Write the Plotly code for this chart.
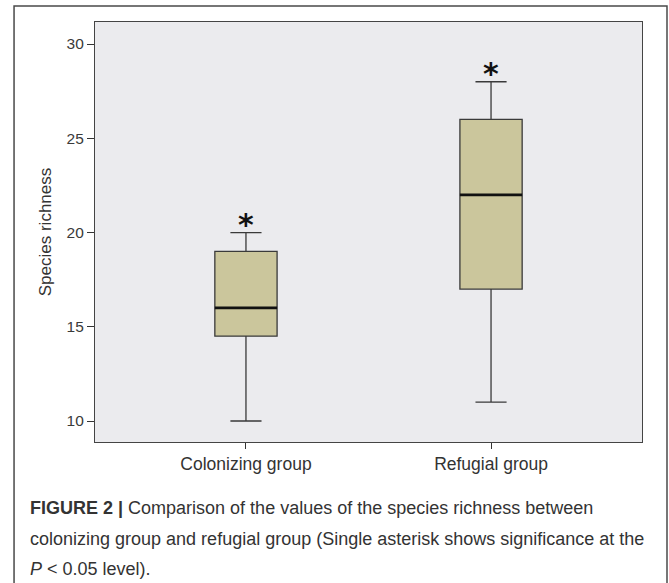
import plotly.graph_objects as go

# ---- data ----
categories = ["Colonizing group", "Refugial group"]
lower_whisker = [10, 11]
q1_values = [14.5, 17]
medians = [16, 22]
q3_values = [19, 26]
upper_whisker = [20, 28]
y_ticks = [10, 15, 20, 25, 30]
y_title = "Species richness"
caption_lines = [
    "<b>FIGURE 2 |</b> Comparison of the values of the species richness between",
    "colonizing group and refugial group (Single asterisk shows significance at the",
    "<i>P</i> &lt; 0.05 level).",
]

xpos = list(range(len(categories)))
box_w = 0.254
box_fill = "#cbc69c"
line_col = "#3a3a3a"

fig = go.Figure()
fig.add_trace(go.Box(
    x=xpos,
    q1=q1_values, median=medians, q3=q3_values,
    lowerfence=lower_whisker, upperfence=upper_whisker,
    width=box_w, whiskerwidth=0.5,
    fillcolor=box_fill,
    line=dict(color=line_col, width=1.3),
    boxpoints=False, hoverinfo="skip", showlegend=False,
))

# thick median lines
for i, m in zip(xpos, medians):
    fig.add_trace(go.Scatter(
        x=[i - box_w / 2, i + box_w / 2], y=[m, m], mode="lines",
        line=dict(color="#111111", width=2.6), showlegend=False, hoverinfo="skip",
    ))

# asterisks above upper whiskers
for i, u in zip(xpos, upper_whisker):
    fig.add_annotation(
        x=i, y=u, xref="x", yref="y", text="<b>*</b>", showarrow=False,
        font=dict(family="DejaVu Sans", size=30, color="#111111"),
        yshift=-11, yanchor="bottom",
    )

# outer frame (left, top, right)
fig.add_shape(type="rect", xref="paper", yref="paper",
              x0=-0.148, x1=1.0457, y0=-0.45, y1=1.038,
              line=dict(color="#4a4a4a", width=1.5), layer="below")

# caption
for k, line in enumerate(caption_lines):
    fig.add_annotation(
        x=-0.123, y=-0.158 - k * 0.0725, xref="paper", yref="paper",
        text=line, showarrow=False, xanchor="left", yanchor="middle", align="left",
        font=dict(family="Liberation Sans, Arial", size=18, color="#333333"),
    )

fig.update_layout(
    width=669, height=583,
    margin=dict(l=95, r=27, t=22, b=141),
    paper_bgcolor="white",
    plot_bgcolor="#ebebee",
    font=dict(family="Liberation Sans, Arial", size=14, color="#333333"),
    xaxis=dict(
        range=[-0.616, 1.616], tickvals=xpos, ticktext=categories,
        ticks="outside", ticklen=6, tickcolor="#333333", tickwidth=1,
        showgrid=False, zeroline=False, showline=True, linecolor="#444444",
        linewidth=1.2, mirror=True, tickfont=dict(size=17.5, color="#333333"),
        ticklabelstandoff=0,
    ),
    yaxis=dict(
        range=[8.886, 31.17], tickvals=y_ticks,
        ticks="outside", ticklen=7, tickcolor="#333333", tickwidth=1,
        showgrid=False, zeroline=False, showline=True, linecolor="#444444",
        linewidth=1.2, mirror=True, tickfont=dict(size=15.5, color="#3a3a3a"),
        title=dict(text=y_title, font=dict(size=17, color="#333333"), standoff=10),
    ),
)

fig.write_html(
    "out.html",
    config={"displayModeBar": False},
    post_script="document.body.style.margin='0';document.body.style.overflow='hidden';",
)
